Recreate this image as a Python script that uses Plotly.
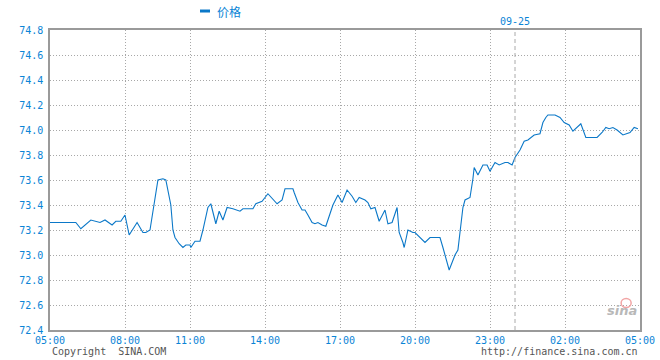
import plotly.graph_objects as go

# x: minutes along the (compressed) trading axis starting at 05:00; y: price
minutes = [0, 62, 74, 98, 120, 132, 149, 158, 170, 180, 190, 209, 223, 230, 240,
           259, 271, 278, 290, 295, 300, 310, 319, 326, 336, 338, 348, 360, 367,
           374, 379, 386, 398, 406, 415, 425, 439, 456, 463, 487, 494, 509, 523,
           545, 557, 564, 583, 586, 595, 605, 612, 619, 629, 636, 643, 653, 662,
           672, 679, 691, 701, 713, 725, 734, 742, 756, 763, 770, 780, 790, 804,
           811, 821, 833, 838, 847, 850, 859, 871, 876, 900, 912, 936, 943, 950,
           958, 965, 972, 979, 984, 991, 996, 1008, 1015, 1018, 1027, 1039, 1049,
           1056, 1068, 1078, 1092, 1099, 1109, 1116, 1128, 1138, 1147, 1162, 1176,
           1183, 1190, 1195, 1212, 1224, 1234, 1246, 1255, 1265, 1274, 1286, 1313,
           1325, 1334, 1342, 1351, 1361, 1375, 1392, 1402, 1411]
prices = [73.26, 73.26, 73.21, 73.28, 73.26, 73.28, 73.24, 73.27, 73.27, 73.32,
          73.16, 73.26, 73.18, 73.18, 73.20, 73.60, 73.61, 73.60, 73.40, 73.20,
          73.14, 73.09, 73.06, 73.08, 73.08, 73.06, 73.11, 73.11, 73.20, 73.32,
          73.38, 73.41, 73.25, 73.35, 73.28, 73.38, 73.37, 73.35, 73.37, 73.37,
          73.41, 73.43, 73.49, 73.41, 73.44, 73.53, 73.53, 73.50, 73.42, 73.36,
          73.36, 73.32, 73.26, 73.25, 73.26, 73.24, 73.23, 73.33, 73.40, 73.48,
          73.42, 73.52, 73.47, 73.42, 73.46, 73.44, 73.42, 73.37, 73.38, 73.27,
          73.36, 73.25, 73.26, 73.38, 73.18, 73.10, 73.06, 73.20, 73.18, 73.18,
          73.10, 73.14, 73.14, 73.06, 72.98, 72.88, 72.94, 73.00, 73.04, 73.18,
          73.38, 73.44, 73.46, 73.61, 73.70, 73.64, 73.72, 73.72, 73.67, 73.74,
          73.72, 73.74, 73.74, 73.72, 73.78, 73.84, 73.91, 73.92, 73.96, 73.97,
          74.06, 74.10, 74.12, 74.12, 74.10, 74.06, 74.04, 73.99, 74.02, 74.05,
          73.94, 73.94, 73.98, 74.02, 74.01, 74.02, 74.00, 73.96, 73.98, 74.02,
          74.01]

tick_minutes = [0, 180, 336, 516, 696, 876, 1056, 1236, 1416]
tick_labels = ["05:00", "08:00", "11:00", "14:00", "17:00", "20:00", "23:00", "02:00", "05:00"]
day_break_minute = 1116
day_break_label = "09-25"
series_name = "价格"

BLUE = "#0a84d6"
LINE = "#0b78c8"
MONO = "DejaVu Sans Mono"
GRID_DASH = "1px,2px"

fig = go.Figure()
fig.add_trace(go.Scatter(x=minutes, y=prices, mode="lines", name=series_name,
                         line=dict(color=LINE, width=1.1), showlegend=False))

fig.update_layout(
    width=660, height=360,
    margin=dict(l=50, r=20, t=30, b=30, autoexpand=False),
    paper_bgcolor="white", plot_bgcolor="white",
    font=dict(family=MONO, size=10, color=BLUE),
    xaxis=dict(range=[0, 1416], tickvals=tick_minutes, ticktext=tick_labels,
               showgrid=True, gridcolor="#a8a8a8", griddash=GRID_DASH, gridwidth=1,
               showline=True, linecolor="#9a9a9a", linewidth=1.5, mirror=True,
               zeroline=False, ticks="", tickfont=dict(family=MONO, size=10, color=BLUE)),
    yaxis=dict(range=[72.4, 74.8], dtick=0.2, tick0=72.4, tickformat=".1f",
               showgrid=True, gridcolor="#a8a8a8", griddash=GRID_DASH, gridwidth=1,
               showline=True, linecolor="#9a9a9a", linewidth=1.5, mirror=True,
               zeroline=False, ticks="", ticklabelstandoff=3,
               tickfont=dict(family=MONO, size=10, color=BLUE)),
)

# day-break dashed line
fig.add_shape(type="line", x0=day_break_minute, x1=day_break_minute, y0=0, y1=1,
              xref="x", yref="paper", line=dict(color="#aaaaaa", width=1, dash="4px,3px"))
fig.add_annotation(x=day_break_minute, y=1, xref="x", yref="paper", yanchor="bottom",
                   text=day_break_label, showarrow=False, yshift=1,
                   font=dict(family=MONO, size=10, color=BLUE))

# legend (dash + name)
fig.add_shape(type="line", x0=0.2542, x1=0.2712, y0=1.0633, y1=1.0633, xref="paper",
              yref="paper", line=dict(color=LINE, width=3))
fig.add_annotation(x=0.2790, y=1.0633, xref="paper", yref="paper", xanchor="left",
                   yanchor="middle", text=series_name, showarrow=False,
                   font=dict(family="Noto Sans CJK SC", size=12, color=BLUE))

# footer texts
fig.add_annotation(x=0, y=-0.0733, xref="paper", yref="paper", xanchor="left",
                   yanchor="middle", text="Copyright  SINA.COM", showarrow=False,
                   font=dict(family=MONO, size=10, color="#555555"))
fig.add_annotation(x=1, y=-0.0733, xref="paper", yref="paper", xanchor="right",
                   yanchor="middle", text="http://finance.sina.com.cn", showarrow=False,
                   font=dict(family=MONO, size=10, color="#555555"))

# sina watermark
fig.add_annotation(x=0.998, y=0.035, xref="paper", yref="paper", xanchor="right",
                   yanchor="bottom", text="<b><i>sina</i></b>", showarrow=False,
                   font=dict(family="DejaVu Sans", size=13, color="#b8b8b8"))
fig.add_shape(type="circle", x0=0.968, x1=0.985, y0=0.075, y1=0.105, xref="paper",
              yref="paper", line=dict(color="#f2a5a5", width=1.5))

fig.write_html("out.html", config={"displayModeBar": False},
               post_script="document.body.style.margin='0';document.body.style.padding='0';")
